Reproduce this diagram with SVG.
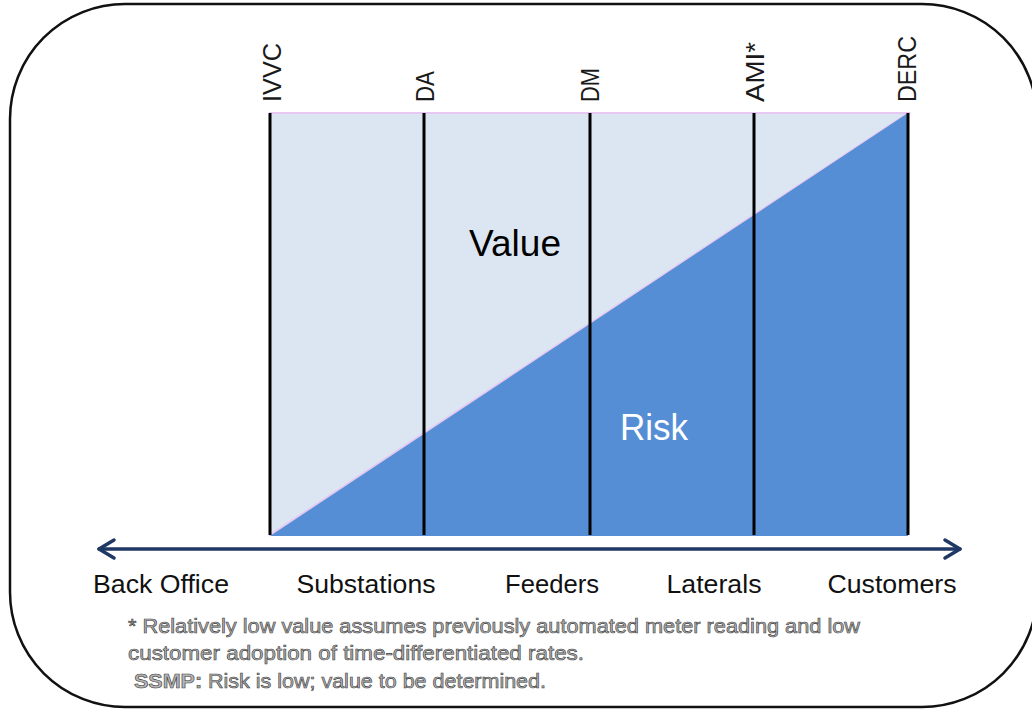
<svg xmlns="http://www.w3.org/2000/svg" width="1032" height="710" viewBox="0 0 1032 710">
<style>
.lab{font-family:"Liberation Sans",Arial,sans-serif;font-size:26px;fill:#1a1a1a}
.axis{font-family:"Liberation Sans",Arial,sans-serif;font-size:26px;fill:#111}
.big{font-family:"Liberation Sans",Arial,sans-serif;font-size:36px}
.note{font-family:"Liberation Sans",Arial,sans-serif;font-size:20px;fill:#b4b4b4;stroke:#3c3c3c;stroke-width:0.6}
.vline{stroke:#000;stroke-width:3}
.arr{stroke:#1f3864;stroke-width:3.5;fill:none;stroke-linecap:round;stroke-linejoin:round}
</style>
<rect width="1032" height="710" fill="#fff"/>
<g id="frame">
<rect x="10" y="4" width="1027" height="703" rx="115" ry="115" fill="none" stroke="#111" stroke-width="2.5"/>
</g>
<g id="chart">
<polygon points="270,535 270,113 908,113" fill="#dce6f2" stroke="#e6c8f2" stroke-width="2"/>
<polygon points="270,536 908,113 908,536" fill="#558ed5"/>
<text class="big" x="469" y="256" fill="#000" textLength="92" lengthAdjust="spacingAndGlyphs">Value</text>
<text class="big" x="620" y="440" fill="#fff" textLength="68" lengthAdjust="spacingAndGlyphs">Risk</text>
</g>
<g id="IVVC">
<line class="vline" x1="270" y1="113" x2="270" y2="535"/>
<text class="lab" transform="translate(281,102) rotate(-90)" textLength="59" lengthAdjust="spacingAndGlyphs">IVVC</text>
</g>
<g id="DA">
<line class="vline" x1="424" y1="113" x2="424" y2="535"/>
<text class="lab" transform="translate(434,102) rotate(-90)" textLength="31" lengthAdjust="spacingAndGlyphs">DA</text>
</g>
<g id="DM">
<line class="vline" x1="590" y1="113" x2="590" y2="535"/>
<text class="lab" transform="translate(599,102) rotate(-90)" textLength="34" lengthAdjust="spacingAndGlyphs">DM</text>
</g>
<g id="AMI">
<line class="vline" x1="754" y1="113" x2="754" y2="535"/>
<text class="lab" transform="translate(764,102) rotate(-90)" textLength="60" lengthAdjust="spacingAndGlyphs">AMI*</text>
</g>
<g id="DERC">
<line class="vline" x1="908" y1="113" x2="908" y2="535"/>
<text class="lab" transform="translate(916,102) rotate(-90)" textLength="66" lengthAdjust="spacingAndGlyphs">DERC</text>
</g>
<g id="connectors">
<line class="arr" x1="99" y1="549" x2="960" y2="549"/>
<polyline class="arr" points="114,540 99,549 114,558"/>
<polyline class="arr" points="945,540 960,549 945,558"/>
</g>
<g id="axis-labels">
<text class="axis" x="161" y="593" text-anchor="middle" textLength="136" lengthAdjust="spacingAndGlyphs">Back Office</text>
<text class="axis" x="366" y="593" text-anchor="middle" textLength="139" lengthAdjust="spacingAndGlyphs">Substations</text>
<text class="axis" x="552" y="593" text-anchor="middle" textLength="94" lengthAdjust="spacingAndGlyphs">Feeders</text>
<text class="axis" x="714" y="593" text-anchor="middle" textLength="95" lengthAdjust="spacingAndGlyphs">Laterals</text>
<text class="axis" x="892" y="593" text-anchor="middle" textLength="129" lengthAdjust="spacingAndGlyphs">Customers</text>
</g>
<g id="notes">
<text class="note" x="128" y="633" textLength="732" lengthAdjust="spacingAndGlyphs">* Relatively low value assumes previously automated meter reading and low</text>
<text class="note" x="128" y="660" textLength="456" lengthAdjust="spacingAndGlyphs">customer adoption of time-differentiated rates.</text>
<text class="note" x="134" y="688" textLength="412" lengthAdjust="spacingAndGlyphs"><tspan font-weight="bold">SSMP:</tspan> Risk is low; value to be determined.</text>
</g>
</svg>
